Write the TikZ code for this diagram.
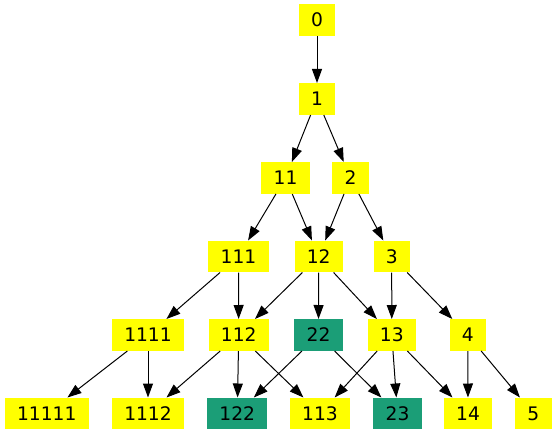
\documentclass[tikz,border=0pt]{standalone}
\usepackage{fontspec}
\setmainfont{DejaVu Sans}
\usetikzlibrary{arrows.meta}
\definecolor{nodeyellow}{HTML}{FFFF00}
\definecolor{nodeteal}{HTML}{1B9E77}
\begin{document}
\begin{tikzpicture}[x=0.75pt,y=-0.75pt,
  box/.style={fill=nodeyellow, draw=none, inner xsep=9.2pt, inner ysep=0pt,
    minimum height=23.6pt, font=\fontsize{14}{16}\selectfont, text=black},
  tealbox/.style={box, fill=nodeteal},
  edge/.style={draw=black, line width=0.75pt, -{Triangle[length=10.5pt,width=7.5pt]}}]
\useasboundingbox (0,0) rectangle (556,435);
% row 0
\node[box] (n0) at (317,20) {0};
% row 1
\node[box] (n1) at (317,99) {1};
% row 2
\node[box] (n11) at (285.5,178) {11};
\node[box] (n2) at (350.5,178) {2};
% row 3
\node[box] (n111) at (238.5,256.5) {111};
\node[box] (n12) at (318.7,256.5) {12};
\node[box] (n3) at (391.7,256.5) {3};
% row 4
\node[box] (n1111) at (148,335) {1111};
\node[box] (n112) at (238.7,335) {112};
\node[tealbox] (n22) at (318.5,335) {22};
\node[box] (n13) at (391.8,335) {13};
\node[box] (n4) at (467.8,335) {4};
% row 5
\node[box] (n11111) at (46.8,413.5) {11111};
\node[box] (n1112) at (148,413.5) {1112};
\node[tealbox] (n122) at (237.3,413.5) {122};
\node[box] (n113) at (320,413.5) {113};
\node[tealbox] (n23) at (397.5,413.5) {23};
\node[box] (n14) at (468,413.5) {14};
\node[box] (n5) at (533.3,413.5) {5};
% edges
\draw[edge] (n0) -- (n1);
\draw[edge] (n1) -- (n11);
\draw[edge] (n1) -- (n2);
\draw[edge] (n11) -- (n111);
\draw[edge] (n11) -- (n12);
\draw[edge] (n2) -- (n12);
\draw[edge] (n2) -- (n3);
\draw[edge] (n111) -- (n1111);
\draw[edge] (n111) -- (n112);
\draw[edge] (n12) -- (n112);
\draw[edge] (n12) -- (n22);
\draw[edge] (n12) -- (n13);
\draw[edge] (n3) -- (n13);
\draw[edge] (n3) -- (n4);
\draw[edge] (n1111) -- (n11111);
\draw[edge] (n1111) -- (n1112);
\draw[edge] (n112) -- (n1112);
\draw[edge] (n112) -- (n122);
\draw[edge] (n112) -- (n113);
\draw[edge] (n22) -- (n122);
\draw[edge] (n22) -- (n23);
\draw[edge] (n13) -- (n113);
\draw[edge] (n13) -- (n23);
\draw[edge] (n13) -- (n14);
\draw[edge] (n4) -- (n14);
\draw[edge] (n4) -- (n5);
\end{tikzpicture}
\end{document}
